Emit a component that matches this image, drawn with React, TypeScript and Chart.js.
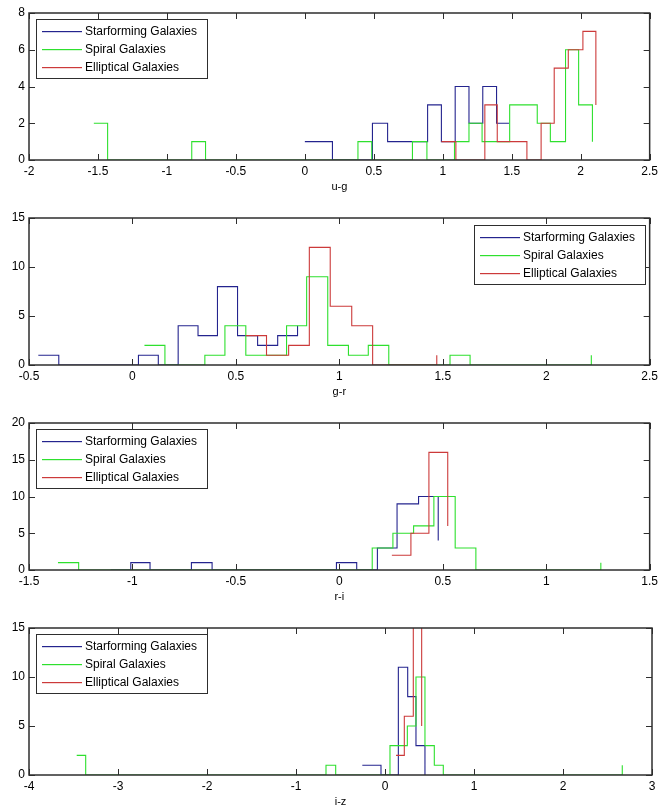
import React, { useEffect, useRef } from 'react';
import { Chart, registerables } from 'chart.js';

Chart.register(...registerables);

const FONT = '"Liberation Sans", Arial, Helvetica, sans-serif';
Chart.defaults.font.family = FONT;

// ---- series meta ----
const seriesNames = ['Starforming Galaxies', 'Spiral Galaxies', 'Elliptical Galaxies'];
const seriesColors = ['#24248e', '#2ee02e', '#cc3a3a'];

// ---- panel 1 : u-g ----
const ugStarX = [0, 0.2, 0.49, 0.6, 0.89, 0.99, 1.09, 1.19, 1.29, 1.39, 1.48];
const ugStarY = [1, 0, 2, 1, 3, 1, 4, 2, 4, 2, 2];
const ugSpiralX = [-1.53, -1.43, -0.82, -0.72, 0.385, 0.485, 0.78, 0.885, 1.085, 1.19, 1.285, 1.485, 1.685, 1.78, 1.89, 1.985, 2.085];
const ugSpiralY = [2, 0, 1, 0, 1, 0, 1, 0, 1, 2, 1, 3, 2, 1, 6, 3, 1];
const ugEllX = [0.99, 1.095, 1.305, 1.395, 1.61, 1.713, 1.808, 1.91, 2.016, 2.11];
const ugEllY = [1, 0, 3, 1, 0, 2, 5, 6, 7, 3];
const ugXTicks = [-2, -1.5, -1, -0.5, 0, 0.5, 1, 1.5, 2, 2.5];
const ugYTicks = [0, 2, 4, 6, 8];

// ---- panel 2 : g-r ----
const grStarX = [-0.455, -0.356, 0.029, 0.125, 0.221, 0.317, 0.411, 0.508, 0.605, 0.702, 0.798];
const grStarY = [1, 0, 1, 0, 4, 3, 8, 3, 2, 3, 4];
const grSpiralX = [0.058, 0.157, 0.35, 0.447, 0.548, 0.745, 0.842, 0.944, 1.044, 1.14, 1.239, 1.535, 1.632, 2.218];
const grSpiralY = [2, 0, 1, 4, 1, 4, 9, 2, 1, 2, 0, 1, 0, 1];
const grEllX = [0.548, 0.648, 0.755, 0.855, 0.956, 1.06, 1.161, 1.471];
const grEllY = [3, 1, 2, 12, 6, 4, 0, 1];
const grXTicks = [-0.5, 0, 0.5, 1, 1.5, 2, 2.5];
const grYTicks = [0, 5, 10, 15];

// ---- panel 3 : r-i ----
const riStarX = [-1.105, -1.008, -0.915, -0.715, -0.615, -0.014, 0.084, 0.184, 0.279, 0.383, 0.478];
const riStarY = [0, 1, 0, 1, 0, 1, 0, 3, 9, 10, 4];
const riSpiralX = [-1.36, -1.26, 0.159, 0.259, 0.359, 0.457, 0.56, 0.66, 1.264];
const riSpiralY = [1, 0, 3, 5, 6, 10, 3, 0, 1];
const riEllX = [0.254, 0.346, 0.433, 0.524];
const riEllY = [2, 5, 16, 6];
const riXTicks = [-1.5, -1, -0.5, 0, 0.5, 1, 1.5];
const riYTicks = [0, 5, 10, 15, 20];

// ---- panel 4 : i-z ----
const izStarX = [-0.255, -0.045, 0.15, 0.255, 0.348, 0.449];
const izStarY = [1, 0, 11, 8, 3, 0];
const izSpiralX = [-3.464, -3.363, -0.663, -0.554, 0.056, 0.251, 0.348, 0.449, 0.554, 0.655, 2.666];
const izSpiralY = [2, 0, 1, 0, 3, 5, 10, 3, 1, 0, 1];
const izEllX = [0.124, 0.217, 0.318, 0.412];
const izEllY = [2, 6, 18, 5];
const izXTicks = [-4, -3, -2, -1, 0, 1, 2, 3];
const izYTicks = [0, 5, 10, 15];

type PanelDef = {
  xLabel: string;
  xTicks: number[];
  yTicks: number[];
  corner: 'tl' | 'tr';
  xs: number[][];
  ys: number[][];
};

const panels: PanelDef[] = [
  { xLabel: 'u-g', xTicks: ugXTicks, yTicks: ugYTicks, corner: 'tl', xs: [ugStarX, ugSpiralX, ugEllX], ys: [ugStarY, ugSpiralY, ugEllY] },
  { xLabel: 'g-r', xTicks: grXTicks, yTicks: grYTicks, corner: 'tr', xs: [grStarX, grSpiralX, grEllX], ys: [grStarY, grSpiralY, grEllY] },
  { xLabel: 'r-i', xTicks: riXTicks, yTicks: riYTicks, corner: 'tl', xs: [riStarX, riSpiralX, riEllX], ys: [riStarY, riSpiralY, riEllY] },
  { xLabel: 'i-z', xTicks: izXTicks, yTicks: izYTicks, corner: 'tl', xs: [izStarX, izSpiralX, izEllX], ys: [izStarY, izSpiralY, izEllY] },
];

const AXIS_COLOR = '#2e2e2e';

const matlabAxes = {
  id: 'matlabAxes',
  afterDatasetsDraw(chart: any) {
    const { ctx, chartArea: a, scales } = chart;
    const L = 6;
    ctx.save();
    ctx.strokeStyle = AXIS_COLOR;
    ctx.lineWidth = 1;
    ctx.beginPath();
    scales.x.ticks.forEach((t: any) => {
      const px = Math.round(scales.x.getPixelForValue(t.value)) + 0.5;
      ctx.moveTo(px, a.bottom);
      ctx.lineTo(px, a.bottom - L);
      ctx.moveTo(px, a.top);
      ctx.lineTo(px, a.top + L);
    });
    scales.y.ticks.forEach((t: any) => {
      const py = Math.round(scales.y.getPixelForValue(t.value)) + 0.5;
      ctx.moveTo(a.left, py);
      ctx.lineTo(a.left + L, py);
      ctx.moveTo(a.right, py);
      ctx.lineTo(a.right - L, py);
    });
    ctx.stroke();
    ctx.lineWidth = 1.5;
    ctx.strokeRect(a.left, a.top, a.right - a.left, a.bottom - a.top);
    ctx.restore();
  },
};

const matlabLegend = {
  id: 'matlabLegend',
  afterDraw(chart: any, _args: any, opts: any) {
    const { ctx, chartArea: a } = chart;
    const w = 171;
    const h = 59;
    const left = Math.round(opts.corner === 'tr' ? a.right - 5 - w : a.left + 7);
    const top = Math.round(a.top + (opts.corner === 'tr' ? 7 : 6));
    ctx.save();
    ctx.fillStyle = '#ffffff';
    ctx.fillRect(left, top, w, h);
    ctx.strokeStyle = AXIS_COLOR;
    ctx.lineWidth = 1;
    ctx.strokeRect(left + 0.5, top + 0.5, w, h);
    ctx.font = '12px ' + FONT;
    ctx.textBaseline = 'middle';
    ctx.textAlign = 'left';
    chart.data.datasets.forEach((ds: any, i: number) => {
      const y = Math.round(top + 12 + i * 18);
      ctx.fillStyle = ds.borderColor;
      ctx.fillRect(left + 6, y, 40, 1.2);
      ctx.fillStyle = '#000';
      ctx.fillText(ds.label, left + 49, y + 1);
    });
    ctx.restore();
  },
};

const fmt = (v: number) => String(Number(v.toFixed(3)));

function Panel({ def }: { def: PanelDef }) {
  const ref = useRef<HTMLCanvasElement | null>(null);
  useEffect(() => {
    if (!ref.current) return;
    const xMin = def.xTicks[0];
    const xMax = def.xTicks[def.xTicks.length - 1];
    const yMax = def.yTicks[def.yTicks.length - 1];
    const chart = new Chart(ref.current, {
      type: 'line',
      data: {
        datasets: seriesNames.map((name, i) => ({
          label: name,
          data: def.xs[i].map((x, j) => ({ x, y: def.ys[i][j] })),
          borderColor: seriesColors[i],
          backgroundColor: seriesColors[i],
          borderWidth: 1.1,
          pointRadius: 0,
          pointHoverRadius: 0,
          stepped: 'before' as const,
          fill: false,
          order: 3 - i,
        })),
      },
      options: {
        animation: false,
        responsive: false,
        devicePixelRatio: 1,
        events: [],
        layout: { padding: { top: 13, right: 10, left: 0, bottom: 0 } },
        plugins: {
          legend: { display: false },
          tooltip: { enabled: false },
          matlabLegend: { corner: def.corner },
        } as any,
        scales: {
          x: {
            type: 'linear',
            min: xMin,
            max: xMax,
            afterBuildTicks: (s: any) => {
              s.ticks = def.xTicks.map((v) => ({ value: v }));
            },
            afterFit: (s: any) => {
              s.height = 45;
            },
            grid: { display: false, drawTicks: false },
            border: { display: false },
            ticks: {
              autoSkip: false,
              maxRotation: 0,
              minRotation: 0,
              padding: 4,
              color: '#000',
              font: { size: 12, family: FONT },
              callback: (v: any) => fmt(Number(v)),
            },
            title: {
              display: true,
              text: def.xLabel,
              color: '#000',
              font: { size: 11, family: FONT },
              padding: { top: 0, bottom: 11 },
            },
          },
          y: {
            type: 'linear',
            min: 0,
            max: yMax,
            afterBuildTicks: (s: any) => {
              s.ticks = def.yTicks.map((v) => ({ value: v }));
            },
            afterFit: (s: any) => {
              s.width = 29;
            },
            grid: { display: false, drawTicks: false },
            border: { display: false },
            ticks: {
              padding: 4,
              color: '#000',
              font: { size: 12, family: FONT },
              callback: (v: any) => fmt(Number(v)),
            },
          },
        },
      },
      plugins: [matlabAxes, matlabLegend],
    } as any);
    return () => chart.destroy();
  }, [def]);
  return <canvas ref={ref} width={662} height={205} style={{ display: 'block', width: 662, height: 205 }} />;
}

export default function App() {
  return (
    <div
      style={{
        position: 'absolute',
        left: 0,
        top: 0,
        width: 662,
        height: 808,
        overflow: 'hidden',
        background: '#fff',
      }}
    >
      {panels.map((p, i) => (
        <div key={p.xLabel} style={{ position: 'absolute', left: 0, top: i * 205 }}>
          <Panel def={p} />
        </div>
      ))}
    </div>
  );
}
